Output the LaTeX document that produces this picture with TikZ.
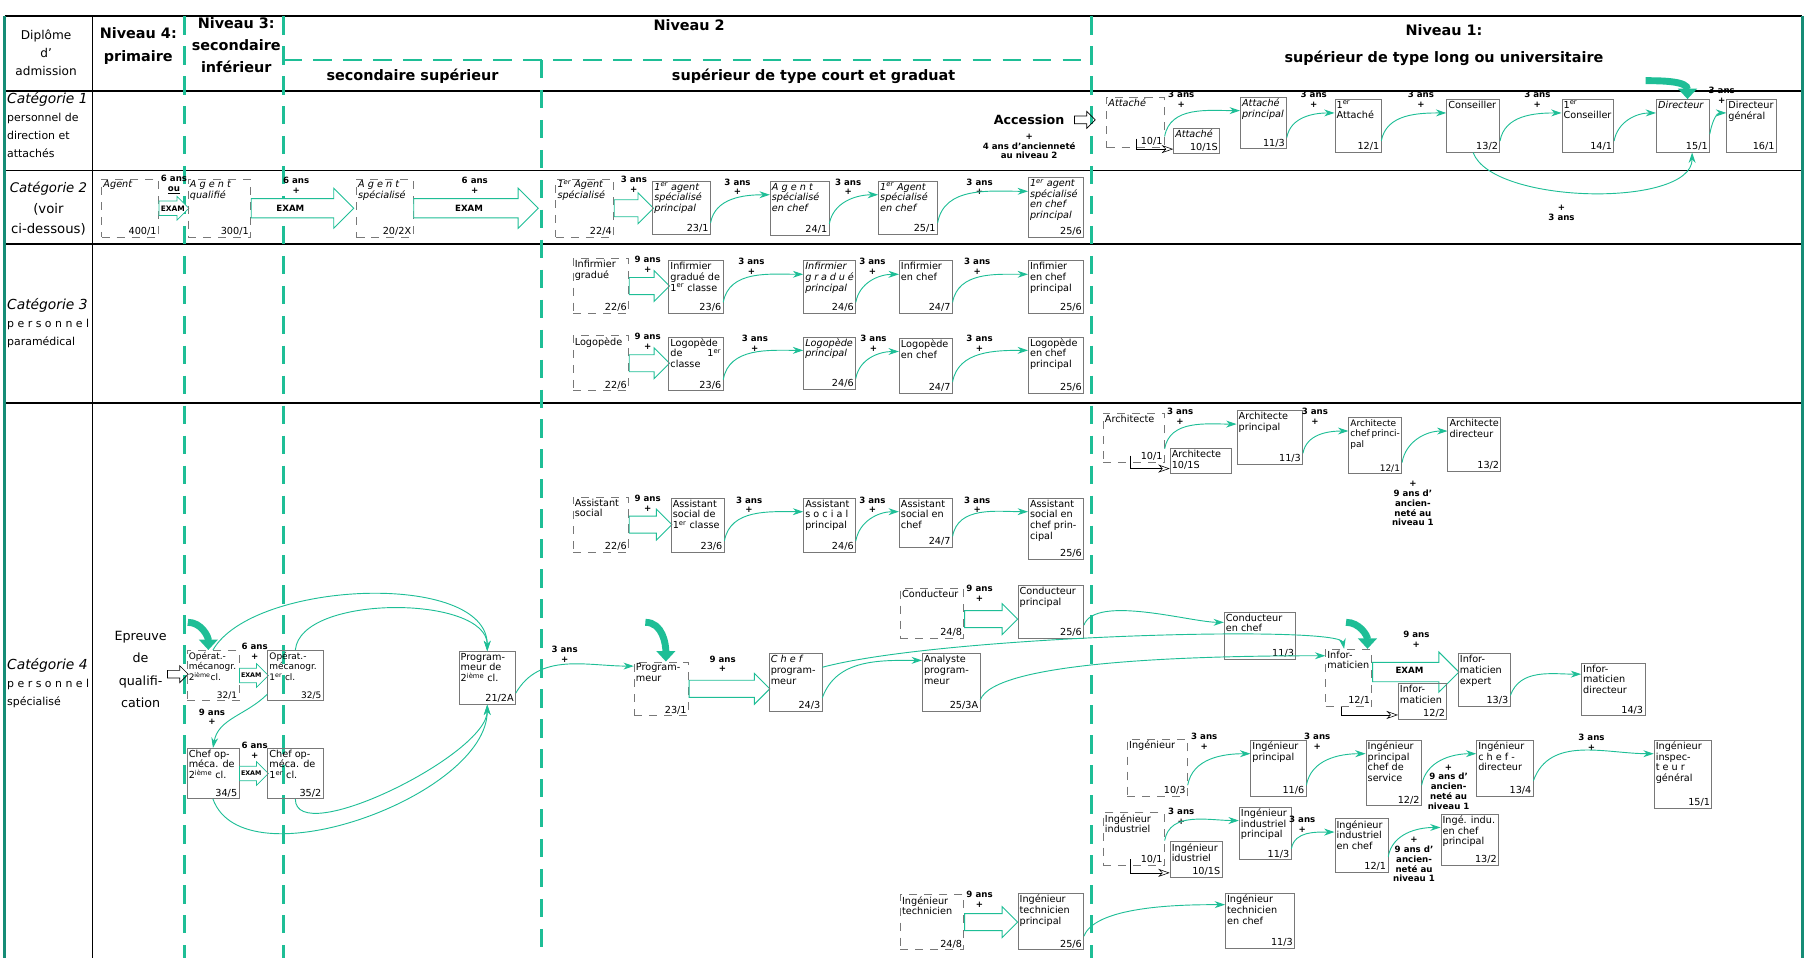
\documentclass[tikz,border=0pt]{standalone}
\usepackage{fontspec}
\setmainfont{DejaVu Sans}
\usetikzlibrary{shapes,arrows.meta,positioning,calc}
\definecolor{vert}{RGB}{30,190,150}
\definecolor{cadre}{RGB}{22,140,118}
\definecolor{boite}{RGB}{120,120,120}
\newcommand{\gcell}[4]{\parbox[c][#2pt][s]{#1pt}{\hyphenpenalty=10000\raggedright{#3}\par\vfill{\raggedleft #4\par}}}
\newcommand{\exer}{\textsuperscript{er}}
\newcommand{\exiem}{\textsuperscript{ième}}

\begin{document}
\begin{tikzpicture}[x=1pt,y=-1pt]
\tikzstyle{obj}=[draw=boite, line width=0.6pt, anchor=north west, inner sep=1.5pt, font=\fontsize{8.4}{9.2}\selectfont];
\tikzstyle{entree}=[obj, dash pattern=on 7pt off 6pt];
\tikzstyle{prom}=[draw=vert, line width=0.8pt, ->];
\tikzstyle{fleche}=[single arrow, draw=vert, fill=white, line width=0.8pt, anchor=tail, single arrow head extend=6pt, text height=6pt, text depth=1pt, inner xsep=0pt, inner ysep=3.5pt];
\tikzstyle{grande}=[fleche, single arrow head extend=9pt, inner ysep=4.5pt];
\tikzstyle{petite}=[fleche, line width=0.6pt, single arrow head extend=4pt, text height=5pt, inner ysep=3pt];
\tikzstyle{creux}=[single arrow, draw, line width=0.6pt, anchor=tail, minimum height=18pt, single arrow head extend=4pt, text height=2pt, text depth=0pt, inner sep=2pt];
\tikzstyle{renvoi}=[draw, line width=0.5pt, -{Stealth[open,length=10pt,width=7pt]}];
\tikzstyle{grosse}=[draw=vert, line width=6pt, -{Triangle[length=9pt,width=16pt]}];
\tikzstyle{ans}=[font=\bfseries\fontsize{7.5}{8.5}\selectfont, align=center, inner sep=0pt];
\tikzstyle{exam}=[font=\bfseries\fontsize{7.5}{8}\selectfont, inner sep=0pt];
\tikzstyle{tete}=[font=\bfseries\fontsize{12.5}{20}\selectfont, align=center];
\tikzstyle{colonne}=[draw=vert, line width=2pt, dash pattern=on 16pt off 10pt];
\tikzstyle{cat}=[anchor=north west, align=left, inner sep=0pt, font=\fontsize{9.5}{15.5}\selectfont];
\useasboundingbox (0,0) rectangle (1568,831);

\draw[line width=2pt] (4,14) -- (1564,14);
\draw[line width=1.5pt] (4,79) -- (1564,79);
\draw[line width=1.5pt] (4,148) -- (1564,148);
\draw[line width=1.5pt] (4,212) -- (1564,212);
\draw[line width=1.5pt] (4,350) -- (1564,350);
\draw[line width=1.2pt] (80,14) -- (80,831);
\draw[colonne] (160,14) -- (160,831);
\draw[colonne] (246,14) -- (246,831);
\draw[colonne] (246,52) -- (947,52);
\draw[colonne] (470,52) -- (470,831);
\draw[colonne] (947,14) -- (947,831);
\draw[line width=2.5pt, cadre] (4,14) -- (4,831);
\draw[line width=2.5pt, cadre] (1564,14) -- (1564,831);

\node[font=\fontsize{10.5}{15.5}\selectfont, align=center] (diplome) at (40,46) {Diplôme\\d'\\admission};
\node[tete] (niv4) at (120,40) {Niveau 4:\\primaire};
\node[tete, font=\bfseries\fontsize{12.5}{19}\selectfont] (niv3) at (205,39) {Niveau 3:\\secondaire\\inférieur};
\node[tete] (niv2) at (598,22) {Niveau 2};
\node[tete] (secsup) at (358,66) {secondaire supérieur};
\node[tete] (supcourt) at (706,66) {supérieur de type court et graduat};
\node[tete, font=\bfseries\fontsize{12.5}{24}\selectfont] (niv1) at (1253,39) {Niveau 1:\\supérieur de type long ou universitaire};

\node[cat] (cat1) at (6,80) {{\fontsize{12}{15.5}\selectfont\itshape Catégorie 1}\\personnel de\\direction et\\attachés};
\node[font=\fontsize{11.5}{17.5}\selectfont, align=center] (cat2) at (42,181) {{\itshape Catégorie 2}\\(voir\\ci-dessous)};
\node[cat] (cat3) at (6,259) {{\fontsize{12}{15.5}\selectfont\itshape Catégorie 3}\\p e r s o n n e l\\paramédical};
\node[cat] (cat4) at (6,571) {{\fontsize{12}{15.5}\selectfont\itshape Catégorie 4}\\p e r s o n n e l\\spécialisé};

\begin{scope}[>={Stealth[length=9pt,width=6pt]}]
  \node[font=\bfseries\fontsize{11}{13}\selectfont] (access) at (893,104) {Accession};
  \node[ans] (access2) at (893,127) {+\\4 ans d'ancienneté\\au niveau 2};
  \node[creux] (accfl) at (932,104) {};
  \node[entree] (attache) at (960,84) {\gcell{47}{40}{\itshape Attaché}{10/1}};
  \node[obj] (att15) at (1018,111) {\gcell{37}{18}{\itshape Attaché}{10/1S}};
  \node[obj] (attprinc) at (1076,84) {\gcell{37}{41}{\itshape Attaché\\principal}{11/3}};
  \node[obj] (att1) at (1158,86) {\gcell{37}{42}{1\exer\\Attaché}{12/1}};
  \node[obj] (cons) at (1255,86) {\gcell{43}{42}{Conseiller}{13/2}};
  \node[obj] (cons1) at (1355,86) {\gcell{42}{42}{1\exer\\Conseiller}{14/1}};
  \node[obj] (dir) at (1437,86) {\gcell{43}{42}{\itshape Directeur}{15/1}};
  \node[obj] (dirgen) at (1498,86) {\gcell{40}{42}{Directeur\\général}{16/1}};
  \node[ans] (la1) at (1025,86) {3 ans\\+};
  \node[ans] (la2) at (1140,86) {3 ans\\+};
  \node[ans] (la3) at (1233,86) {3 ans\\+};
  \node[ans] (la4) at (1334,86) {3 ans\\+};
  \node[ans] (la5) at (1494,83) {3 ans\\+};
  \node[ans] (la6) at (1355,185) {+\\3 ans};
  \coordinate (dirhaut) at (1428,70);

  \draw[renvoi] ([xshift=-25pt,yshift=8pt]attache.south east) |- ([yshift=4pt]att15.south west);
  \draw[prom] ([yshift=10pt]attache.south east) to[out=80,in=180] ([yshift=-12pt]attprinc.north west);
  \draw[prom] ([yshift=10pt]attprinc.south east) to[out=80,in=180] ([yshift=-12pt]att1.north west);
  \draw[prom] ([yshift=10pt]att1.south east) to[out=80,in=180] ([yshift=-12pt]cons.north west);
  \draw[prom] ([yshift=10pt]cons.south east) to[out=80,in=180] ([yshift=-12pt]cons1.north west);
  \draw[prom] ([yshift=10pt]cons1.south east) to[out=80,in=180] ([yshift=-12pt]dir.north west);
  \draw[prom] ([yshift=16pt]dir.south east) to[out=80,in=180] ([yshift=-12pt]dirgen.north west);
  \draw[prom] (cons.south) to[out=-70,in=-90,looseness=0.65] ([xshift=8pt]dir.south);
  \draw[grosse] (dirhaut) to[out=0,in=90] ([xshift=4pt]dir.north);

  \node[entree] (agent) at (88,155) {\gcell{46}{47}{\itshape Agent}{400/1}};
  \node[petite, minimum height=26pt] (ba1) at (agent.east) {};
  \node[ans] (ba1t) at (151,160) {6 ans\\\underline{ou}};
  \node[exam, font=\bfseries\fontsize{6.5}{7}\selectfont] (ba1e) at (150,181) {EXAM};
  \node[entree] (agq) at (163,155) {\gcell{51}{47}{\itshape A g e n t\\qualifié}{300/1}};
  \node[grande, minimum height=89pt] (ba2) at (agq.east) {};
  \node[ans] (ba2t) at (257,161) {6 ans\\+};
  \node[exam] (ba2e) at (252,181) {EXAM};
  \node[entree] (agsp) at (309,155) {\gcell{46}{47}{\itshape A g e n t\\spécialisé}{20/2X}};
  \node[grande, minimum height=108pt] (ba3) at (agsp.east) {};
  \node[ans] (ba3t) at (412,161) {6 ans\\+};
  \node[exam] (ba3e) at (407,181) {EXAM};
  \node[entree] (ag1sp) at (482,155) {\gcell{47}{47}{\itshape 1\exer\ Agent\\spécialisé}{22/4}};
  \node[fleche, minimum height=34pt] (ba4) at (ag1sp.east) {};
  \node[ans] (ba4t) at (550,160) {3 ans\\+};
  \node[obj] (ag1spp) at (566,157) {\gcell{47}{42}{\itshape 1\exer\ agent\\spécialisé\\principal}{23/1}};
  \node[obj] (agspc) at (668,157) {\gcell{48}{43}{\itshape A g e n t\\spécialisé\\en chef}{24/1}};
  \node[obj] (ag1spc) at (762,157) {\gcell{48}{42}{\itshape 1\exer\ Agent\\spécialisé\\en chef}{25/1}};
  \node[obj] (ag1spcp) at (892,154) {\gcell{45}{48}{\itshape 1\exer\ agent\\spécialisé\\en chef\\principal}{25/6}};
  \node[ans] (lb1) at (640,162) {3 ans\\+};
  \node[ans] (lb2) at (736,162) {3 ans\\+};
  \node[ans] (lb3) at (850,162) {3 ans\\+};
  \draw[prom] ([yshift=10pt]ag1spp.south east) to[out=80,in=180] ([yshift=-12pt]agspc.north west);
  \draw[prom] ([yshift=10pt]agspc.south east) to[out=80,in=180] ([yshift=-12pt]ag1spc.north west);
  \draw[prom] ([yshift=10pt]ag1spc.south east) to[out=80,in=180] ([yshift=-12pt]ag1spcp.north west);

  \node[entree] (infg) at (497,224) {\gcell{45}{44}{Infirmier\\gradué}{22/6}};
  \node[fleche, minimum height=35pt] (ba5) at (infg.east) {};
  \node[ans] (ba5t) at (562,229) {9 ans\\+};
  \node[obj] (infg1) at (580,226) {\gcell{44}{42}{Infirmier\\gradué de\\1\exer\ classe}{23/6}};
  \node[obj] (infgp) at (697,226) {\gcell{42}{42}{\itshape Infirmier\\g r a d u é\\principal}{24/6}};
  \node[obj] (infc) at (780,226) {\gcell{43}{42}{Infirmier\\en chef}{24/7}};
  \node[obj] (infcp) at (892,226) {\gcell{45}{42}{Infimier\\en chef\\principal}{25/6}};
  \node[ans] (lc1) at (652,231) {3 ans\\+};
  \node[ans] (lc2) at (757,231) {3 ans\\+};
  \node[ans] (lc3) at (848,231) {3 ans\\+};
  \draw[prom] ([yshift=10pt]infg1.south east) to[out=80,in=180] ([yshift=-12pt]infgp.north west);
  \draw[prom] ([yshift=10pt]infgp.south east) to[out=80,in=180] ([yshift=-12pt]infc.north west);
  \draw[prom] ([yshift=10pt]infc.south east) to[out=80,in=180] ([yshift=-12pt]infcp.north west);

  \node[entree] (logo) at (497,291) {\gcell{45}{44}{Logopède}{22/6}};
  \node[fleche, minimum height=35pt] (ba6) at (logo.east) {};
  \node[ans] (ba6t) at (562,296) {9 ans\\+};
  \node[obj] (logo1) at (580,292) {\gcell{44}{43}{Logopède\\de\hfill 1\exer\\classe}{23/6}};
  \node[obj] (logop) at (697,292) {\gcell{42}{42}{\itshape Logopède\\principal}{24/6}};
  \node[obj] (logoc) at (780,293) {\gcell{43}{44}{Logopède\\en chef}{24/7}};
  \node[obj] (logocp) at (892,292) {\gcell{45}{45}{Logopède\\en chef\\principal}{25/6}};
  \node[ans] (lc4) at (655,298) {3 ans\\+};
  \node[ans] (lc5) at (758,298) {3 ans\\+};
  \node[ans] (lc6) at (850,298) {3 ans\\+};
  \draw[prom] ([yshift=10pt]logo1.south east) to[out=80,in=180] ([yshift=-12pt]logop.north west);
  \draw[prom] ([yshift=10pt]logop.south east) to[out=80,in=180] ([yshift=-12pt]logoc.north west);
  \draw[prom] ([yshift=10pt]logoc.south east) to[out=80,in=180] ([yshift=-12pt]logocp.north west);

  \node[entree] (arch) at (957,358) {\gcell{50}{39}{Architecte}{10/1}};
  \node[obj] (arch15) at (1015,389) {\gcell{50}{18}{Architecte\\10/1S}{}};
  \node[obj] (archp) at (1073,356) {\gcell{54}{43}{Architecte\\principal}{11/3}};
  \node[obj, font=\fontsize{7.8}{9.2}\selectfont] (archcp) at (1170,362) {\gcell{43}{45}{Architecte\\chef~princi-\\pal}{12/1}};
  \node[obj] (archd) at (1256,362) {\gcell{43}{43}{Architecte\\directeur}{13/2}};
  \node[ans] (ld1) at (1024,361) {3 ans\\+};
  \node[ans] (ld2) at (1141,361) {3 ans\\+};
  \node[ans] (ld3) at (1226,437) {+\\9 ans d'\\ancien-\\neté au\\niveau 1};
  \draw[renvoi] ([xshift=-30pt,yshift=6pt]arch.south east) |- ([yshift=4pt]arch15.south west);
  \draw[prom] ([yshift=12pt]arch.south east) to[out=80,in=180] ([yshift=-12pt]archp.north west);
  \draw[prom] ([yshift=10pt]archp.south east) to[out=80,in=180] ([yshift=-12pt]archcp.north west);
  \draw[prom] ([yshift=10pt]archcp.south east) to[out=80,in=180] ([yshift=-12pt]archd.north west);

  \node[entree] (as) at (497,431) {\gcell{45}{44}{Assistant\\social}{22/6}};
  \node[fleche, minimum height=37pt] (ba7) at (as.east) {};
  \node[ans] (ba7t) at (562,437) {9 ans\\+};
  \node[obj] (as1) at (582,432) {\gcell{43}{43}{Assistant\\social de\\1\exer\ classe}{23/6}};
  \node[obj] (asp) at (697,432) {\gcell{42}{43}{Assistant\\s o c i a l\\principal}{24/6}};
  \node[obj] (asc) at (780,432) {\gcell{43}{39}{Assistant\\social en\\chef}{24/7}};
  \node[obj] (ascp) at (892,432) {\gcell{45}{49}{Assistant\\social en\\chef prin-\\cipal}{25/6}};
  \node[ans] (ld4) at (650,438) {3 ans\\+};
  \node[ans] (ld5) at (757,438) {3 ans\\+};
  \node[ans] (ld6) at (848,438) {3 ans\\+};
  \draw[prom] ([yshift=10pt]as1.south east) to[out=80,in=180] ([yshift=-12pt]asp.north west);
  \draw[prom] ([yshift=10pt]asp.south east) to[out=80,in=180] ([yshift=-12pt]asc.north west);
  \draw[prom] ([yshift=10pt]asc.south east) to[out=80,in=180] ([yshift=-12pt]ascp.north west);

  \node[entree] (cond) at (781,510) {\gcell{52}{40}{Conducteur}{24/8}};
  \node[fleche, minimum height=46pt] (ba8) at ([yshift=-5pt]cond.east) {};
  \node[ans] (ba8t) at (850,515) {9 ans\\+};
  \node[obj] (condp) at (883,508) {\gcell{54}{42}{Conducteur\\principal}{25/6}};
  \node[obj] (condc) at (1062,531) {\gcell{59}{37}{Conducteur\\en chef}{11/3}};
  \draw[prom] ([yshift=12pt]condp.south east) to[out=70,in=180,looseness=0.6] ([yshift=-9pt]condc.north west);

  \node[font=\fontsize{11}{19.5}\selectfont, align=center] (epreuve) at (122,581) {Epreuve\\de\\qualifi-\\cation};
  \node[creux] (epfl) at (145,585) {};
  \node[entree, font=\fontsize{7.8}{9.2}\selectfont] (op2) at (162,564) {\gcell{42}{40}{Opérat.-\\mécanogr.\\2\exiem cl.}{32/1}};
  \node[petite, minimum height=25pt] (ba9) at (op2.east) {};
  \node[ans] (ba9t) at (221,565) {6 ans\\+};
  \node[exam, font=\bfseries\fontsize{5.5}{6}\selectfont] (ba9e) at (218,586) {EXAM};
  \node[obj, font=\fontsize{7.8}{9.2}\selectfont] (op1) at (232,564) {\gcell{45}{40}{Opérat.-\\mécanogr.\\1\exer\ cl.}{32/5}};
  \node[obj] (co2) at (162,649) {\gcell{42}{40}{Chef op-\\méca. de\\2\exiem\ cl.}{34/5}};
  \node[petite, minimum height=25pt] (ba10) at (co2.east) {};
  \node[ans] (ba10t) at (221,651) {6 ans\\+};
  \node[exam, font=\bfseries\fontsize{5.5}{6}\selectfont] (ba10e) at (218,671) {EXAM};
  \node[obj] (co1) at (232,649) {\gcell{45}{40}{Chef op-\\méca. de\\1\exer\ cl.}{35/2}};
  \node[ans] (ld8) at (184,622) {9 ans\\+};
  \node[obj] (pg2) at (398,565) {\gcell{46}{42}{Program-\\meur de\\2\exiem\ cl.}{21/2A}};
  \node[ans] (ld7) at (490,568) {3 ans\\+};
  \node[entree] (prog) at (550,574) {\gcell{44}{43}{Program-\\meur}{23/1}};
  \node[fleche, minimum height=70pt] (ba11) at (prog.east) {};
  \node[ans] (ba11t) at (627,576) {9 ans\\+};
  \node[obj] (cprog) at (667,567) {\gcell{43}{46}{{\itshape C h e f}\\program-\\meur}{24/3}};
  \node[obj] (anap) at (800,567) {\gcell{47}{46}{Analyste\\program-\\meur}{25/3A}};
  \node[entree] (info) at (1150,563) {\gcell{37}{46}{Infor-\\maticien}{12/1}};
  \node[grande, minimum height=75pt] (ba12) at ([yshift=5pt]info.east) {};
  \node[ans] (ba12t) at (1229,555) {9 ans\\+};
  \node[exam] (ba12e) at (1223,582) {EXAM};
  \node[obj] (info2) at (1213,593) {\gcell{39}{27}{Infor-\\maticien}{12/2}};
  \node[obj] (infoe) at (1265,567) {\gcell{42}{42}{Infor-\\maticien\\expert}{13/3}};
  \node[obj] (infod) at (1372,575) {\gcell{52}{42}{Infor-\\maticien\\directeur}{14/3}};
  \coordinate (ophaut) at (163,540);
  \coordinate (proghaut) at (560,540);
  \coordinate (infohaut) at (1168,540);

  \draw[prom] (op2.north) to[out=60,in=90,looseness=0.75] (pg2.north);
  \draw[prom] (op1.north) to[out=85,in=90,looseness=0.75] (pg2.north);
  \draw[prom] (co2.south) to[out=-70,in=-90,looseness=0.8] (pg2.south);
  \draw[prom] (co1.south) to[out=-90,in=-90,looseness=0.6] (pg2.south);
  \draw[prom] ([yshift=6pt]op1.south west) to[out=225,in=80] (co2.north);
  \draw[prom] ([yshift=10pt]pg2.south east) to[out=60,in=180] ([yshift=-4pt]prog.north west);
  \draw[prom] ([yshift=12pt]cprog.south east) to[out=70,in=180] ([yshift=-6pt]anap.north west);
  \draw[prom] ([yshift=-12pt]cprog.north east) to[out=15,in=100,out looseness=0.6,in looseness=0.12] ([xshift=-4pt]info.north);
  \draw[prom] ([yshift=10pt]anap.south east) to[out=70,in=180,out looseness=0.3,in looseness=1] ([yshift=-6pt]info.north west);
  \draw[renvoi] ([xshift=-6pt]info.south) |- ([yshift=4pt]info2.south west);
  \draw[prom] ([yshift=10pt]infoe.south east) to[out=70,in=180] ([yshift=-10pt]infod.north west);
  \draw[grosse] (ophaut) to[out=0,in=90] ([xshift=-4pt]op2.north);
  \draw[grosse] (proghaut) to[out=0,in=90] ([xshift=4pt]prog.north);
  \draw[grosse] (infohaut) to[out=0,in=90] ([xshift=-4pt]info.north east);

  \node[entree] (ing) at (978,641) {\gcell{49}{46}{Ingénieur}{10/3}};
  \node[obj] (ingp) at (1085,642) {\gcell{45}{45}{Ingénieur\\principal}{11/6}};
  \node[obj] (ingpcs) at (1185,642) {\gcell{45}{53}{Ingénieur\\principal\\chef de\\service}{12/2}};
  \node[obj] (ingcd) at (1281,642) {\gcell{46}{45}{Ingénieur\\c h e f -\\directeur}{13/4}};
  \node[obj] (ingig) at (1435,642) {\gcell{47}{55}{Ingénieur\\inspec-\\t e u r\\général}{15/1}};
  \node[ans] (ld9) at (1045,643) {3 ans\\+};
  \node[ans] (ld10) at (1143,643) {3 ans\\+};
  \node[ans] (ld11) at (1257,683) {+\\9 ans d'\\ancien-\\neté au\\niveau 1};
  \node[ans] (ld12) at (1381,644) {3 ans\\+};
  \draw[prom] ([yshift=10pt]ing.south east) to[out=80,in=180] ([yshift=-12pt]ingp.north west);
  \draw[prom] ([yshift=10pt]ingp.south east) to[out=80,in=180] ([yshift=-12pt]ingpcs.north west);
  \draw[prom] ([yshift=18pt]ingpcs.south east) to[out=80,in=180] ([yshift=-12pt]ingcd.north west);
  \draw[prom] ([yshift=14pt]ingcd.south east) to[out=70,in=180] ([yshift=-12pt]ingig.north west);

  \node[entree] (ingi) at (957,705) {\gcell{50}{42}{Ingénieur\\industriel}{10/1}};
  \node[obj] (ingi15) at (1015,730) {\gcell{42}{27}{Ingénieur\\idustriel}{10/1S}};
  \node[obj] (ingip) at (1075,700) {\gcell{42}{42}{Ingénieur\\industriel\\principal}{11/3}};
  \node[obj] (ingic) at (1158,710) {\gcell{43}{43}{Ingénieur\\industriel\\en chef}{12/1}};
  \node[obj] (ingicp) at (1250,706) {\gcell{47}{41}{Ingé. indu.\\en chef\\principal}{13/2}};
  \node[ans] (ld13) at (1025,708) {3 ans\\+};
  \node[ans] (ld14) at (1130,715) {3 ans\\+};
  \node[ans] (ld15) at (1227,746) {+\\9 ans d'\\ancien-\\neté au\\niveau 1};
  \draw[renvoi] ([xshift=-30pt,yshift=6pt]ingi.south east) |- ([yshift=4pt]ingi15.south west);
  \draw[prom] ([yshift=22pt]ingi.south east) to[out=80,in=180] ([yshift=-12pt]ingip.north west);
  \draw[prom] ([yshift=10pt]ingip.south east) to[out=80,in=180] ([yshift=-12pt]ingic.north west);
  \draw[prom] ([yshift=14pt]ingic.south east) to[out=80,in=180] ([yshift=-12pt]ingicp.north west);

  \node[entree] (ingt) at (781,776) {\gcell{52}{44}{Ingénieur\\technicien}{24/8}};
  \node[fleche, minimum height=46pt] (ba13) at (ingt.east) {};
  \node[ans] (ba13t) at (850,780) {9 ans\\+};
  \node[obj] (ingtp) at (883,775) {\gcell{54}{45}{Ingénieur\\technicien\\principal}{25/6}};
  \node[obj] (ingtc) at (1063,775) {\gcell{57}{44}{Ingénieur\\technicien\\en chef}{11/3}};
  \draw[prom] ([yshift=12pt]ingtp.south east) to[out=70,in=180,looseness=0.6] ([yshift=-10pt]ingtc.north west);
\end{scope}
\end{tikzpicture}
\end{document}
